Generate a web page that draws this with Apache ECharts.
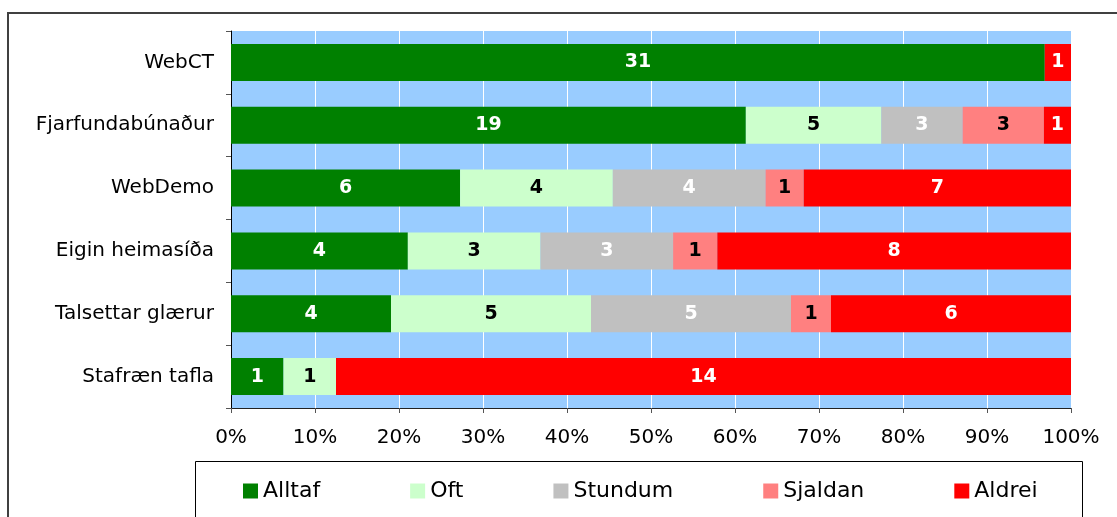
<!DOCTYPE html>
<html>
<head>
<meta charset="utf-8">
<script src="https://cdn.jsdelivr.net/npm/echarts@6/dist/echarts.min.js"></script>
<style>
html,body{margin:0;padding:0;background:#fff;}
#chart{width:1117px;height:517px;}
</style>
</head>
<body>
<div id="chart"></div>
<script>
var categories = ['WebCT', 'Fjarfundabúnaður', 'WebDemo', 'Eigin heimasíða', 'Talsettar glærur', 'Stafræn tafla'];
var seriesNames = ['Alltaf', 'Oft', 'Stundum', 'Sjaldan', 'Aldrei'];
var alltaf  = [31, 19, 6, 4, 4, 1];
var oft     = [0, 5, 4, 3, 5, 1];
var stundum = [0, 3, 4, 3, 5, 0];
var sjaldan = [0, 3, 1, 1, 1, 0];
var aldrei  = [1, 1, 7, 8, 6, 14];
var xTicks = [0, 10, 20, 30, 40, 50, 60, 70, 80, 90, 100];

var counts = [alltaf, oft, stundum, sjaldan, aldrei];
var colors = ['#008000', '#CCFFCC', '#C0C0C0', '#FF8080', '#FF0000'];
var labelColors = ['#ffffff', '#000000', '#ffffff', '#000000', '#ffffff'];
var FONT = 'DejaVu Sans';

var totals = categories.map(function (c, i) {
  var s = 0;
  counts.forEach(function (arr) { s += arr[i]; });
  return s;
});

var series = seriesNames.map(function (name, si) {
  return {
    name: name,
    type: 'bar',
    stack: 'total',
    barCategoryGap: '41%',
    itemStyle: { color: colors[si] },
    label: {
      show: true,
      position: 'inside',
      color: labelColors[si],
      fontFamily: FONT,
      fontWeight: 'bold',
      fontSize: 19,
      formatter: function (p) {
        var v = counts[si][p.dataIndex];
        return v ? String(v) : '';
      }
    },
    emphasis: { disabled: true },
    data: counts[si].map(function (v, i) { return v / totals[i] * 100; })
  };
});

var chart = echarts.init(document.getElementById('chart'));
chart.setOption({
  animation: false,
  backgroundColor: '#ffffff',
  textStyle: { fontFamily: FONT },
  graphic: [
    { type: 'rect', z: 0, shape: { x: 8, y: 13, width: 1200, height: 600 },
      style: { fill: 'none', stroke: '#404040', lineWidth: 2 } },
    { type: 'rect', z: 0, shape: { x: 195.5, y: 461.5, width: 887, height: 100 },
      style: { fill: 'none', stroke: '#000000', lineWidth: 1 } }
  ],
  grid: {
    left: 231, right: 46, top: 31, bottom: 109,
    show: true, backgroundColor: '#99CCFF', borderWidth: 0
  },
  legend: {
    data: seriesNames,
    left: 243, top: 480,
    padding: 0,
    itemWidth: 15, itemHeight: 15, itemGap: 90,
    icon: 'rect',
    selectedMode: false,
    textStyle: { fontFamily: FONT, fontSize: 22, color: '#000' }
  },
  xAxis: {
    type: 'value',
    min: xTicks[0], max: xTicks[xTicks.length - 1], interval: 10,
    axisLine: { show: true, lineStyle: { color: '#222', width: 1 } },
    axisTick: { show: true, length: 5, lineStyle: { color: '#555' } },
    axisLabel: { formatter: '{value}%', fontFamily: FONT, fontSize: 20, color: '#000', margin: 20 },
    splitLine: { show: true, lineStyle: { color: '#ffffff', width: 1 } }
  },
  yAxis: {
    type: 'category',
    inverse: true,
    data: categories,
    axisLine: { show: true, lineStyle: { color: '#000', width: 1 } },
    axisTick: { show: true, length: 5, lineStyle: { color: '#555' } },
    axisLabel: { fontFamily: FONT, fontSize: 20, color: '#000', margin: 17 },
    splitLine: { show: false }
  },
  series: series
});
</script>
</body>
</html>
